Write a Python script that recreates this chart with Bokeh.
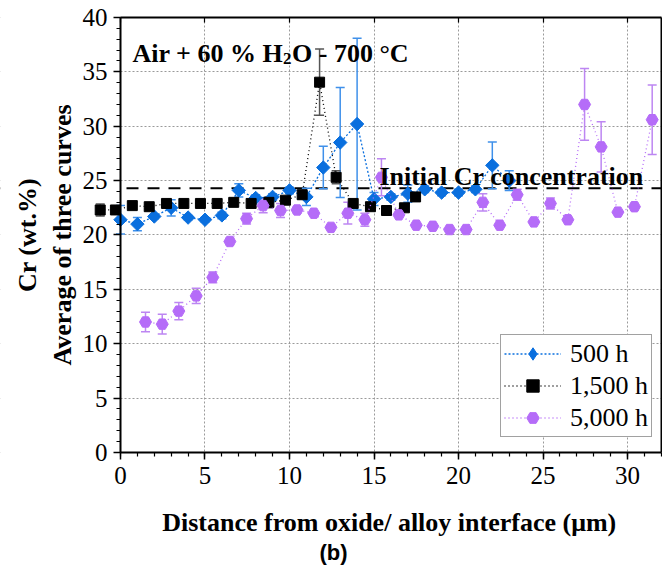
import numpy as np
from bokeh.plotting import figure
from bokeh.models import (ColumnDataSource, Whisker, TeeHead, Span, BoxAnnotation, Label,
                          LinearAxis, Range1d, SingleIntervalTicker, FixedTicker,
                          Legend, LegendItem)
from bokeh.embed import file_html
from bokeh.resources import INLINE

# ---------------- data ----------------
dist_500 = [0, 1, 2, 3, 4, 5, 6, 7, 8, 9, 10, 11, 12, 13, 14, 15, 16, 17, 18, 19, 20, 21, 22, 23]
cr_500 = [21.4, 21.0, 21.7, 22.5, 21.6, 21.4, 21.8, 24.1, 23.4, 23.5, 24.1, 23.5, 26.2, 28.5,
          30.2, 23.3, 23.5, 23.8, 24.2, 23.9, 23.9, 24.2, 26.4, 25.0]
err_500 = [1.3, 0.6, 0.2, 0.75, 0.2, 0.2, 0.3, 0.6, 0.3, 0.3, 0.3, 0.8, 1.95, 5.05,
           7.9, 0.6, 0.3, 0.8, 0.3, 0.3, 0.3, 0.3, 2.15, 0.9]

dist_1500 = [-1.2, -0.3, 0.7, 1.7, 2.72, 3.75, 4.73, 5.72, 6.7, 7.73, 8.78, 9.76, 10.75,
             11.78, 12.76, 13.77, 14.79, 15.74, 16.8, 17.46]
cr_1500 = [22.3, 22.3, 22.7, 22.6, 22.9, 22.9, 22.9, 22.9, 23.0, 22.9, 23.0, 23.2, 23.7,
           34.05, 25.3, 22.9, 22.6, 22.25, 22.5, 23.5]
err_1500 = [0.55, 0.2, 0.2, 0.2, 0.2, 0.2, 0.2, 0.2, 0.2, 0.2, 0.5, 0.2, 0.4,
            3.05, 0.6, 0.2, 0.2, 0.2, 0.2, 0.2]

dist_5000 = [1.48, 2.47, 3.45, 4.48, 5.46, 6.47, 7.46, 8.44, 9.47, 10.45, 11.44, 12.45, 13.45,
             14.46, 15.44, 16.47, 17.5, 18.48, 19.47, 20.45, 21.44, 22.44, 23.47, 24.46,
             25.44, 26.47, 27.46, 28.44, 29.43, 30.41, 31.46]
cr_5000 = [12.0, 11.8, 13.0, 14.4, 16.1, 19.4, 21.5, 22.7, 22.25, 22.3, 22.0, 20.7, 22.0,
           21.4, 25.3, 21.85, 20.9, 20.8, 20.5, 20.5, 23.0, 20.9, 23.7, 21.2,
           22.9, 21.4, 32.0, 28.1, 22.1, 22.6, 30.6]
err_5000 = [0.9, 0.9, 0.8, 0.7, 0.5, 0.3, 0.5, 0.65, 0.65, 0.3, 0.2, 0.2, 1.0,
            0.6, 1.7, 0.2, 0.2, 0.2, 0.2, 0.2, 0.8, 0.2, 0.5, 0.2,
            0.5, 0.2, 3.3, 2.3, 0.2, 0.3, 3.2]

initial_cr = 24.3
series_labels = ["500 h", "1,500 h", "5,000 h"]
x_label = "Distance from oxide/ alloy interface (\u03bcm)"
y_label_1 = "Cr (wt.%)"
y_label_2 = "Average of three curves"
annotation_text = "Initial Cr concentration"
panel_tag = "(b)"

# plotted axis extents and the visible window around them
ax_x0, ax_x1 = 0, 32.0
ax_y0, ax_y1 = 0, 40
view_x = (-7.10, 32.07)
view_y = (-10.575, 41.56)

SERIF = "Liberation Serif"

p = figure(width=662, height=567, x_range=Range1d(*view_x), y_range=Range1d(*view_y),
           output_backend="svg", toolbar_location=None,
           min_border_left=0, min_border_right=0, min_border_top=0, min_border_bottom=0,
           background_fill_color="white", border_fill_color="white")
p.outline_line_color = None

# main axes drawn at the data origin
xt = SingleIntervalTicker(interval=5, num_minor_ticks=5)
yt = SingleIntervalTicker(interval=5, num_minor_ticks=5)
p.xaxis.ticker = xt
p.yaxis.ticker = yt
p.xaxis.bounds = (ax_x0, ax_x1)
p.yaxis.bounds = (ax_y0, ax_y1)
p.xaxis.fixed_location = ax_y0
p.yaxis.fixed_location = ax_x0
for ax in (p.xaxis, p.yaxis):
    ax.axis_line_width = 2
    ax.axis_line_color = "black"
    ax.major_tick_line_width = 1.5
    ax.major_tick_line_color = "black"
    ax.minor_tick_line_color = "black"
    ax.minor_tick_line_width = 1.2
    ax.major_tick_out = 7
    ax.major_tick_in = 0
    ax.minor_tick_out = 4
    ax.minor_tick_in = 0
    ax.major_label_text_font = SERIF
    ax.major_label_text_font_size = "25px"
    ax.major_label_text_color = "black"
p.xaxis.major_label_standoff = 8
p.yaxis.major_label_standoff = 6

# frame borders (top and right)
top_ax = LinearAxis(fixed_location=ax_y1, bounds=(ax_x0, ax_x1),
                    ticker=FixedTicker(ticks=[], minor_ticks=[0, 5, 10, 15, 20, 25, 30]),
                    major_tick_in=0, major_tick_out=0, minor_tick_in=5, minor_tick_out=0,
                    axis_line_width=2, minor_tick_line_width=1.2, minor_tick_line_color="black")
p.add_layout(top_ax, "above")
right_ax = LinearAxis(fixed_location=ax_x1, bounds=(ax_y0, ax_y1),
                      ticker=FixedTicker(ticks=[], minor_ticks=[]),
                      major_tick_in=0, major_tick_out=0, minor_tick_in=0, minor_tick_out=0,
                      axis_line_width=2)
p.add_layout(right_ax, "right")

# grids
p.xgrid.ticker = xt
p.ygrid.ticker = yt
for g in (p.xgrid, p.ygrid):
    g.grid_line_color = "#9a9a9a"
    g.grid_line_dash = "2 2"
    g.grid_line_width = 1

# initial concentration line
p.add_layout(Span(location=initial_cr, dimension="width", line_color="black",
                  line_width=2, line_dash="12 9", level="underlay"))
# blank the area outside the axes box
for kw in (dict(right=ax_x0), dict(left=ax_x1), dict(top=ax_y0), dict(bottom=ax_y1)):
    p.add_layout(BoxAnnotation(fill_color="white", fill_alpha=1, line_color=None,
                               level="underlay", **kw))

series = [
    (dist_500, cr_500, err_500, "#0a6fde", "#3f90ea", "square", 9.5, np.pi / 4, "2 2", "diamond"),
    (dist_1500, cr_1500, err_1500, "black", "#555555", "square", 10, 0.0, "1 3", None),
    (dist_5000, cr_5000, err_5000, "#b56cf8", "#bd86f2", "hex", 12, 0.0, "1 3", None),
]
items = []
for (xs, ys, es, col, ecol, mk, sz, ang, dash, legmk), lab in zip(series, series_labels):
    src = ColumnDataSource(dict(x=xs, y=ys,
                                lo=[y - e for y, e in zip(ys, es)],
                                hi=[y + e for y, e in zip(ys, es)]))
    w = Whisker(source=src, base="x", lower="lo", upper="hi", dimension="height",
                line_color=ecol, line_width=1.5, level="underlay",
                upper_head=TeeHead(size=9, line_color=ecol, line_width=1.5),
                lower_head=TeeHead(size=9, line_color=ecol, line_width=1.5))
    p.add_layout(w)
    r_line = p.line("x", "y", source=src, line_color=col, line_width=1.3, line_dash=dash)
    leg_r = None
    if legmk is not None:
        # diamond glyph hidden beneath the rotated squares; it supplies the legend symbol
        leg_r = p.scatter("x", "y", source=src, marker=legmk, size=11, fill_color=col,
                          line_color=col)
    r_pts = p.scatter("x", "y", source=src, marker=mk, size=sz, angle=ang, fill_color=col,
                      line_color=col)
    items.append(LegendItem(label=lab, renderers=[r_line, leg_r if leg_r is not None else r_pts]))

lg = Legend(items=items, location=(500, 130))
lg.label_text_font = SERIF
lg.label_text_font_size = "26px"
lg.label_text_color = "black"
lg.glyph_width = 57
lg.glyph_height = 31
lg.label_height = 31
lg.label_standoff = 9
lg.padding = 3
lg.spacing = 1
lg.margin = 0
lg.border_line_color = "#444444"
lg.border_line_width = 1.5
lg.background_fill_alpha = 1
p.add_layout(lg, "center")

# texts
common = dict(text_font=SERIF, text_font_style="bold", text_color="black")
p.add_layout(Label(x=0.71, y=36.7, text="Air + 60 % H", text_font_size="26px",
                   text_baseline="alphabetic", **common))
p.add_layout(Label(x=0.71, y=36.7, x_offset=150.6, y_offset=-5, text="2",
                   text_font_size="17px", text_baseline="alphabetic", **common))
p.add_layout(Label(x=0.71, y=36.7, x_offset=159.5, text="O - 700 \u00b0C",
                   text_font_size="26px", text_baseline="alphabetic", **common))
p.add_layout(Label(x=15.32, y=25.4, text=annotation_text, text_font_size="26px",
                   text_baseline="alphabetic", **common))
p.add_layout(Label(x=-5.5, y=20.0, text=y_label_1, angle=np.pi / 2, text_align="center",
                   text_baseline="middle", text_font_size="26px", **common))
p.add_layout(Label(x=-3.43, y=20.0, text=y_label_2, angle=np.pi / 2, text_align="center",
                   text_baseline="middle", text_font_size="26px", **common))
p.add_layout(Label(x=15.9, y=-6.44, text=x_label, text_align="center",
                   text_baseline="middle", text_font_size="26px", **common))
p.add_layout(Label(x=12.6, y=-9.2, text=panel_tag, text_align="center",
                   text_baseline="middle", text_font_size="22px",
                   text_font="Liberation Sans", text_font_style="bold", text_color="black"))

open("out.html", "w").write(file_html(p, INLINE))
